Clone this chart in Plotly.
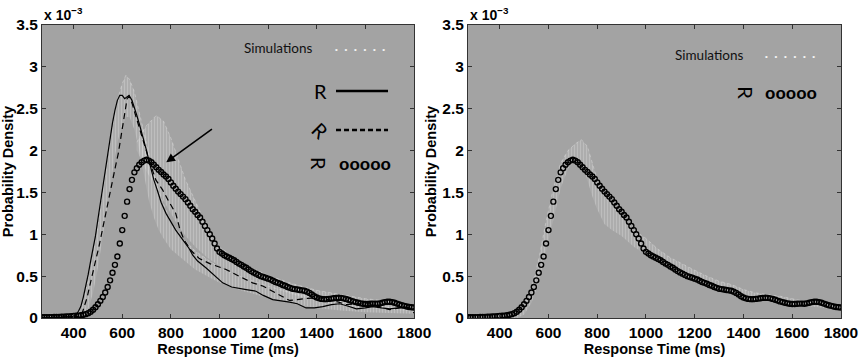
import plotly.graph_objects as go

# ---------------- data (density in units of 1e-3) ----------------
circ_x = list(range(270, 1801, 10))
circ_y = [0.010, 0.010, 0.010, 0.011, 0.011, 0.012, 0.013, 0.014, 0.015, 0.016,
          0.018, 0.020, 0.022, 0.024, 0.026, 0.028, 0.032, 0.038, 0.046, 0.058,
          0.075, 0.098, 0.128, 0.165, 0.205, 0.250, 0.305, 0.370, 0.450, 0.540,
          0.635, 0.735, 0.890, 1.050, 1.220, 1.390, 1.540, 1.650, 1.740, 1.790,
          1.830, 1.860, 1.880, 1.890, 1.880, 1.860, 1.830, 1.800, 1.770, 1.745,
          1.715, 1.690, 1.660, 1.620, 1.580, 1.545, 1.510, 1.480, 1.450, 1.420,
          1.380, 1.340, 1.300, 1.270, 1.230, 1.200, 1.150, 1.100, 1.050, 1.000,
          0.950, 0.890, 0.830, 0.790, 0.770, 0.750, 0.735, 0.720, 0.705, 0.690,
          0.670, 0.650, 0.635, 0.615, 0.600, 0.580, 0.560, 0.545, 0.530, 0.515,
          0.500, 0.490, 0.480, 0.470, 0.460, 0.445, 0.430, 0.420, 0.410, 0.395,
          0.385, 0.370, 0.360, 0.350, 0.345, 0.340, 0.335, 0.330, 0.325, 0.315,
          0.300, 0.280, 0.260, 0.245, 0.235, 0.228, 0.225, 0.225, 0.228, 0.232,
          0.236, 0.240, 0.242, 0.240, 0.235, 0.228, 0.218, 0.208, 0.198, 0.190,
          0.182, 0.175, 0.170, 0.168, 0.168, 0.170, 0.172, 0.172, 0.170, 0.175,
          0.182, 0.190, 0.195, 0.195, 0.190, 0.182, 0.172, 0.162, 0.152, 0.145,
          0.138, 0.132, 0.128, 0.125]

solid_x = [270, 350, 400, 410, 420, 430, 440, 450, 460, 470, 480, 490, 500, 510, 520,
           530, 540, 550, 560, 570, 580, 590, 600, 610, 620, 628, 640, 650, 660, 670,
           680, 690, 700, 710, 720, 730, 745, 760, 780, 800, 820, 850, 875, 890, 910,
           944, 980, 1013, 1050, 1081, 1110, 1150, 1180, 1219, 1250, 1288, 1320, 1356,
           1390, 1425, 1460, 1494, 1530, 1563, 1600, 1631, 1665, 1700, 1735, 1769, 1800]
solid_y = [0.005, 0.008, 0.02, 0.04, 0.08, 0.14, 0.25, 0.38, 0.52, 0.68, 0.82, 0.98,
           1.18, 1.38, 1.58, 1.76, 1.95, 2.15, 2.33, 2.48, 2.60, 2.66, 2.66, 2.62, 2.64,
           2.66, 2.60, 2.52, 2.42, 2.32, 2.22, 2.12, 2.00, 1.88, 1.75, 1.65, 1.52, 1.38,
           1.25, 1.15, 1.05, 0.93, 0.83, 0.75, 0.68, 0.60, 0.50, 0.42, 0.37, 0.35, 0.34,
           0.32, 0.27, 0.22, 0.21, 0.19, 0.17, 0.12, 0.12, 0.135, 0.16, 0.17, 0.14, 0.11,
           0.12, 0.135, 0.12, 0.11, 0.12, 0.13, 0.10]

dash_x = [270, 400, 420, 435, 445, 456, 466, 477, 490, 504, 518, 532, 545, 556, 566,
          575, 584, 592, 600, 610, 620, 628, 641, 655, 676, 693, 710, 738, 766, 790,
          820, 838, 855, 885, 917, 960, 1027, 1080, 1136, 1180, 1230, 1288, 1320, 1356,
          1412, 1453, 1490, 1521, 1570, 1618, 1660, 1700, 1740, 1769, 1800]
dash_y = [0.003, 0.01, 0.02, 0.056, 0.14, 0.25, 0.38, 0.53, 0.68, 0.85, 1.05, 1.25,
          1.45, 1.62, 1.72, 1.85, 1.97, 2.12, 2.29, 2.48, 2.62, 2.65, 2.56, 2.42, 2.21,
          2.05, 1.89, 1.65, 1.53, 1.40, 1.25, 1.05, 0.93, 0.80, 0.71, 0.65, 0.58, 0.50,
          0.42, 0.38, 0.30, 0.21, 0.22, 0.235, 0.24, 0.215, 0.19, 0.16, 0.17, 0.17,
          0.13, 0.10, 0.12, 0.13, 0.06]

# simulation envelopes, left panel (fast models)
simA_x = [410, 440, 460, 480, 500, 520, 540, 560, 580, 600, 615, 630, 650, 670, 690,
          710, 730, 750, 770, 800, 850, 900, 950, 1000, 1100, 1200, 1300, 1400, 1500,
          1600, 1700, 1800]
simA_lo = [0.0, 0.02, 0.1, 0.3, 0.6, 0.95, 1.35, 1.75, 2.1, 2.3, 2.4, 2.4, 2.25, 2.0,
           1.7, 1.4, 1.2, 1.05, 0.95, 0.82, 0.7, 0.58, 0.5, 0.42, 0.32, 0.24, 0.17, 0.12,
           0.09, 0.07, 0.06, 0.05]
simA_hi = [0.0, 0.2, 0.45, 0.78, 1.12, 1.52, 1.92, 2.3, 2.6, 2.8, 2.9, 2.85, 2.7, 2.45,
           2.2, 1.95, 1.72, 1.52, 1.36, 1.15, 0.95, 0.8, 0.7, 0.6, 0.48, 0.38, 0.3, 0.24,
           0.2, 0.16, 0.13, 0.1]
# left panel (slow model)
simB_x = [660, 700, 740, 770, 800, 830, 860, 900, 950, 1000, 1050, 1100, 1200, 1300,
          1400, 1500, 1600, 1700, 1800]
simB_lo = [2.0, 1.75, 1.55, 1.4, 1.25, 1.1, 0.98, 0.85, 0.72, 0.62, 0.55, 0.48, 0.38,
           0.28, 0.2, 0.15, 0.12, 0.1, 0.08]
simB_hi = [2.1, 2.3, 2.42, 2.35, 2.15, 1.9, 1.65, 1.4, 1.08, 0.85, 0.74, 0.64, 0.51,
           0.41, 0.33, 0.28, 0.23, 0.2, 0.15]
# right panel
simC_x = [440, 470, 500, 530, 560, 590, 620, 650, 680, 710, 735, 760, 780, 800, 830,
          860, 900, 950, 1000, 1050, 1100, 1150, 1200, 1250, 1300, 1350, 1400, 1450,
          1500, 1550, 1600, 1650, 1700, 1750, 1800]
simC_lo = [0.0, 0.0, 0.04, 0.18, 0.42, 0.8, 1.2, 1.55, 1.78, 1.9, 1.88, 1.65, 1.45,
           1.3, 1.12, 1.05, 0.98, 0.85, 0.75, 0.66, 0.58, 0.5, 0.45, 0.4, 0.35, 0.3,
           0.25, 0.22, 0.2, 0.18, 0.16, 0.14, 0.13, 0.11, 0.09]
simC_hi = [0.0, 0.05, 0.15, 0.35, 0.7, 1.15, 1.55, 1.85, 2.0, 2.08, 2.13, 2.05, 1.85,
           1.65, 1.45, 1.35, 1.2, 1.05, 0.95, 0.82, 0.72, 0.64, 0.57, 0.5, 0.44, 0.4,
           0.34, 0.3, 0.28, 0.26, 0.23, 0.2, 0.18, 0.16, 0.14]

x_ticks = [400, 600, 800, 1000, 1200, 1400, 1600, 1800]
y_ticks = [0, 0.5, 1, 1.5, 2, 2.5, 3, 3.5]
y_tick_text = ["0", "0.5", "1", "1.5", "2", "2.5", "3", "3.5"]

# ---------------- figure ----------------
BG = "#a3a3a3"
fig = go.Figure()

def band(x, lo, hi, xa, ya):
    fig.add_trace(go.Scatter(x=x, y=lo, mode="lines", line=dict(width=0, color="rgba(0,0,0,0)"),
                             xaxis=xa, yaxis=ya, showlegend=False, hoverinfo="skip"))
    fig.add_trace(go.Scatter(x=x, y=hi, mode="lines", fill="tonexty",
                             line=dict(width=0.8, color="rgba(225,225,225,0.55)", dash="dot"),
                             fillcolor="rgba(215,215,215,0.18)",
                             fillpattern=dict(shape="|", size=3, solidity=0.25,
                                              fgcolor="rgba(232,232,232,0.75)"),
                             xaxis=xa, yaxis=ya, showlegend=False, hoverinfo="skip"))

band(simA_x, simA_lo, simA_hi, "x", "y")
band(simB_x, simB_lo, simB_hi, "x", "y")
band(simC_x, simC_lo, simC_hi, "x2", "y2")

fig.add_trace(go.Scatter(x=solid_x, y=solid_y, mode="lines", line=dict(color="black", width=1.2),
                         xaxis="x", yaxis="y", showlegend=False))
fig.add_trace(go.Scatter(x=dash_x, y=dash_y, mode="lines",
                         line=dict(color="black", width=1.2, dash="6px,4px"),
                         xaxis="x", yaxis="y", showlegend=False))
for xa, ya in (("x", "y"), ("x2", "y2")):
    fig.add_trace(go.Scatter(x=circ_x, y=circ_y, mode="markers",
                             marker=dict(symbol="circle-open", size=5, color="black",
                                         line=dict(width=1.4, color="black")),
                             xaxis=xa, yaxis=ya, showlegend=False))

FONT = "Liberation Sans, Arial"
axis_font = dict(family=FONT, size=14.5, color="black")
xcommon = dict(range=[270, 1800], tickvals=x_ticks, ticks="inside", ticklen=4,
               tickcolor="#333", showline=True, linecolor="#333", linewidth=1, mirror="ticks",
               showgrid=False, zeroline=False, automargin=False,
               tickfont=dict(size=15.5, color="black", family=FONT),
               ticktext=["<b>%d</b>" % v for v in x_ticks],
               title=dict(text="<b>Response Time (ms)</b>", font=axis_font, standoff=0))
ycommon = dict(range=[0, 3.5], tickvals=y_ticks, ticktext=["<b>%s</b>" % t for t in y_tick_text],
               ticks="inside", ticklen=4, tickcolor="#333", showline=True, linecolor="#333",
               linewidth=1, mirror="ticks", showgrid=False, zeroline=False, automargin=False,
               tickfont=dict(size=15.5, color="black", family=FONT),
               title=dict(text="<b>Probability Density</b>", font=axis_font, standoff=2))

fig.update_layout(
    width=859, height=357,
    margin=dict(l=42, r=18, t=25, b=39),
    paper_bgcolor="white", plot_bgcolor=BG,
    font=dict(family=FONT, color="black"),
    xaxis=dict(domain=[0, 0.4656], anchor="y", **xcommon),
    yaxis=dict(domain=[0, 1], anchor="x", **ycommon),
    xaxis2=dict(domain=[0.5332, 1], anchor="y2", **xcommon),
    yaxis2=dict(domain=[0, 1], anchor="x2", **ycommon),
)

def dom(px, left):  # pixel -> domain fraction (x)
    return (px - left) / 372.0

def domy(py):
    return (318 - py) / 293.0

LEG = "Lato, Open Sans"
DOTS = "•   •   •   •   •   •"
C = dict(xanchor="center", yanchor="middle", showarrow=False)
ann = [
    # Left panel legend
    dict(xref="x domain", yref="y domain", x=dom(278, 42), y=domy(48), text="Simulations",
         font=dict(family=LEG, size=13.5, color="#111"), **C),
    dict(xref="x domain", yref="y domain", x=dom(360, 42), y=domy(49),
         text=DOTS, font=dict(size=8, color="#f4f4f4"), **C),
    dict(xref="x domain", yref="y domain", x=dom(320, 42), y=domy(91), text="R",
         font=dict(family=LEG, size=20, color="black"), **C),
    dict(xref="x domain", yref="y domain", x=dom(320, 42), y=domy(130), text="R",
         textangle=45, font=dict(family=LEG, size=20, color="black"), **C),
    dict(xref="x domain", yref="y domain", x=dom(319, 42), y=domy(163), text="R",
         textangle=90, font=dict(family=LEG, size=20, color="black"), **C),
    dict(xref="x domain", yref="y domain", x=dom(365, 42), y=domy(164), text="<b>ooooo</b>",
         font=dict(family=FONT, size=17, color="black"), **C),
    # arrow
    dict(xref="x", yref="y", axref="x", ayref="y", x=781, y=1.86, ax=975, ay=2.27,
         text="", showarrow=True, arrowhead=2, arrowsize=1.1, arrowwidth=1.6,
         arrowcolor="black"),
    # exponent labels
    dict(xref="x domain", yref="y domain", x=0.0, y=1.0, xanchor="left", yanchor="bottom",
         text="<b>x 10<sup>−3</sup></b>", showarrow=False,
         font=dict(family=FONT, size=14, color="black")),
    dict(xref="x2 domain", yref="y2 domain", x=0.0, y=1.0, xanchor="left", yanchor="bottom",
         text="<b>x 10<sup>−3</sup></b>", showarrow=False,
         font=dict(family=FONT, size=14, color="black")),
    # right legend
    dict(xref="x2 domain", yref="y2 domain", x=dom(708, 468), y=domy(55), text="Simulations",
         font=dict(family=LEG, size=13.5, color="#111"), **C),
    dict(xref="x2 domain", yref="y2 domain", x=dom(789, 468), y=domy(56),
         text=DOTS, font=dict(size=8, color="#f4f4f4"), **C),
    dict(xref="x2 domain", yref="y2 domain", x=dom(745, 468), y=domy(93), text="R",
         textangle=90, font=dict(family=LEG, size=20, color="black"), **C),
    dict(xref="x2 domain", yref="y2 domain", x=dom(790, 468), y=domy(94), text="<b>ooooo</b>",
         font=dict(family=FONT, size=17, color="black"), **C),
]
fig.update_layout(annotations=ann)

shapes = [
    dict(type="line", xref="x domain", yref="y domain", x0=dom(336, 42), x1=dom(388, 42),
         y0=domy(91), y1=domy(91), line=dict(color="black", width=2.5)),
    dict(type="line", xref="x domain", yref="y domain", x0=dom(336, 42), x1=dom(388, 42),
         y0=domy(130), y1=domy(130), line=dict(color="black", width=2.5, dash="5px,3px")),
]
fig.update_layout(shapes=shapes)

fig.write_html("out.html", config={"displayModeBar": False},
               post_script="document.body.style.margin='0';document.body.style.padding='0';")
